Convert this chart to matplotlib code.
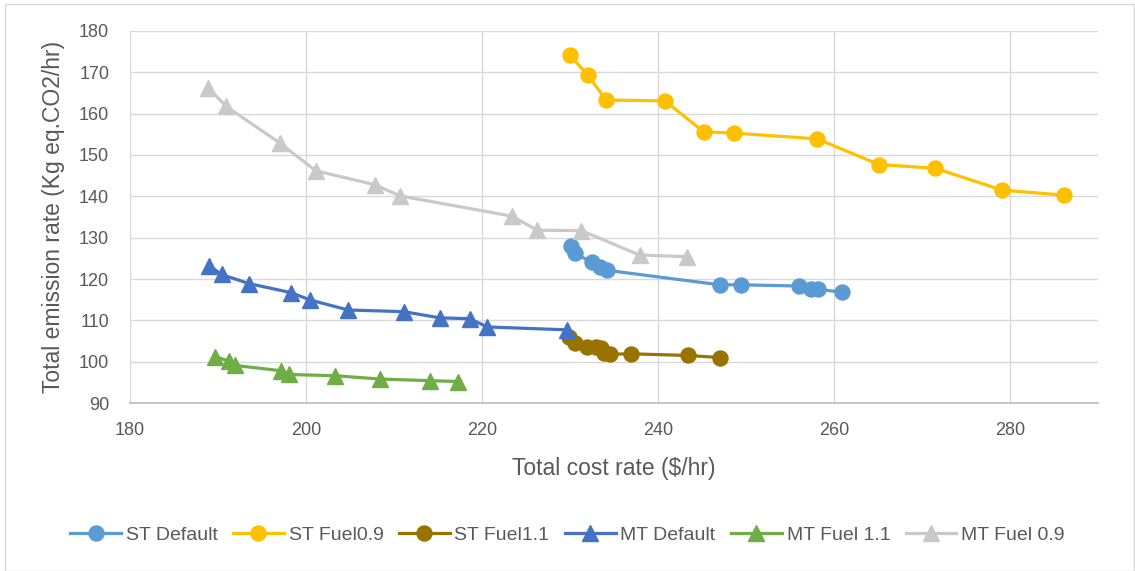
import matplotlib
matplotlib.use("Agg")
import matplotlib.pyplot as plt
from matplotlib.lines import Line2D

st_default_x = [230.1, 230.6, 232.5, 233.4, 234.2, 247.0, 249.4, 256.0, 257.4, 258.2, 260.9]
st_default_y = [128.1, 126.2, 124.0, 123.0, 122.1, 118.6, 118.6, 118.3, 117.5, 117.5, 116.8]

st_fuel09_x = [230.0, 232.0, 234.1, 240.8, 245.2, 248.6, 258.1, 265.1, 271.5, 279.1, 286.1]
st_fuel09_y = [174.1, 169.4, 163.3, 163.1, 155.6, 155.3, 153.9, 147.7, 146.8, 141.5, 140.3]

st_fuel11_x = [229.9, 230.6, 231.9, 232.9, 233.5, 233.9, 234.6, 236.9, 243.4, 247.0]
st_fuel11_y = [106.0, 104.5, 103.6, 103.5, 103.2, 102.0, 101.8, 101.9, 101.5, 101.0]

mt_default_x = [189.0, 190.4, 193.5, 198.3, 200.5, 204.8, 211.1, 215.2, 218.6, 220.6, 229.7]
mt_default_y = [123.2, 121.1, 118.9, 116.7, 114.9, 112.5, 112.1, 110.6, 110.4, 108.4, 107.7]

mt_fuel11_x = [189.7, 191.3, 191.9, 197.2, 198.1, 203.3, 208.4, 214.1, 217.3]
mt_fuel11_y = [101.2, 100.1, 99.1, 97.8, 96.9, 96.6, 95.8, 95.4, 95.2]

mt_fuel09_x = [188.9, 190.9, 197.1, 201.1, 207.8, 210.7, 223.4, 226.3, 231.3, 237.9, 243.3]
mt_fuel09_y = [166.2, 161.8, 152.8, 146.2, 142.8, 140.1, 135.2, 131.8, 131.7, 125.8, 125.4]

series = [
    ("ST Default", st_default_x, st_default_y, "#5B9BD5", "o"),
    ("ST Fuel0.9", st_fuel09_x, st_fuel09_y, "#FFC000", "o"),
    ("ST Fuel1.1", st_fuel11_x, st_fuel11_y, "#997300", "o"),
    ("MT Default", mt_default_x, mt_default_y, "#4472C4", "^"),
    ("MT Fuel 1.1", mt_fuel11_x, mt_fuel11_y, "#70AD47", "^"),
    ("MT Fuel 0.9", mt_fuel09_x, mt_fuel09_y, "#C9C9C9", "^"),
]

x_ticks = [180, 200, 220, 240, 260, 280]
y_ticks = [90, 100, 110, 120, 130, 140, 150, 160, 170, 180]

plt.rcParams['font.family'] = ['Liberation Sans', 'DejaVu Sans']

W, H = 1135, 571
fig = plt.figure(figsize=(W / 100, H / 100), dpi=100)
ax = fig.add_axes([130 / W, 1 - 403 / H, (1098 - 130) / W, (403 - 31) / H])

handles = []
for name, xs, ys, col, mk in series:
    ms = 10.8 if mk == "o" else 11
    ax.plot(xs, ys, color=col, lw=2.3, marker=mk, markersize=ms,
            markeredgecolor=col, markerfacecolor=col, zorder=3)
    handles.append(Line2D([0], [0], color=col, lw=2.3, marker=mk, markersize=ms,
                          markeredgecolor=col, markerfacecolor=col))

ax.set_xlim(180, 290)
ax.set_ylim(90, 180)
ax.set_xticks(x_ticks)
ax.set_yticks(y_ticks)
ax.grid(True, color="#D9D9D9", lw=1.0, zorder=0)
ax.set_axisbelow(True)
for s in ["top", "right", "left"]:
    ax.spines[s].set_visible(False)
ax.spines["bottom"].set_color("#BFBFBF")
ax.spines["bottom"].set_linewidth(1.3)
ax.tick_params(axis="both", length=0, labelsize=13, colors="#595959")
ax.tick_params(axis="x", pad=14)
ax.tick_params(axis="y", pad=15)

ax.set_xlabel("Total cost rate ($/hr)", fontsize=16.5, color="#595959", va="center")
ax.set_ylabel("Total emission rate (Kg eq.CO2/hr)", fontsize=16.5, color="#595959", va="center")
ax.xaxis.set_label_coords(0.5, (403 - 469) / 372)
ax.yaxis.set_label_coords((54 - 130) / 968, 0.5)

fig.legend(handles, [s[0] for s in series], loc="center", bbox_to_anchor=(0.5, 1 - 535 / H),
           ncol=6, frameon=False, fontsize=14, handlelength=2.6, columnspacing=0.8,
           handletextpad=0.25, labelcolor="#595959")

border = plt.Rectangle((5 / W, 0.0), 1 - 6 / W, 1 - 4 / H, transform=fig.transFigure,
                       fill=False, edgecolor="#D9D9D9", lw=1.0)
fig.patches.append(border)

fig.savefig("out.png", dpi=100)
